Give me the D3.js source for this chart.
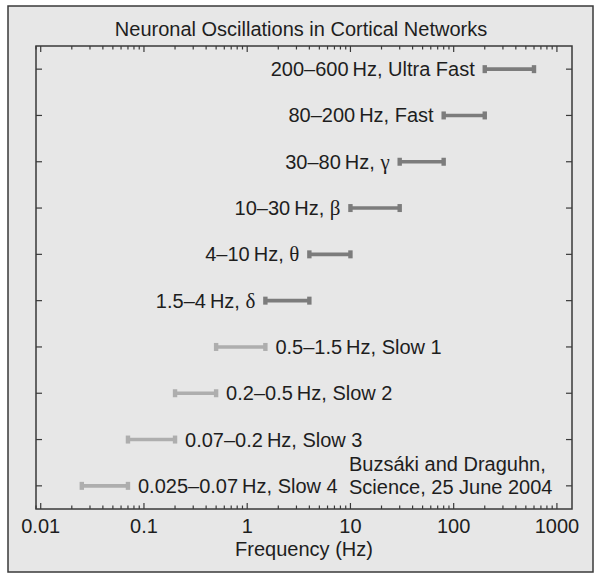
<!DOCTYPE html>
<html>
<head>
<meta charset="utf-8">
<script src="https://cdn.jsdelivr.net/npm/d3@7"></script>
<style>
  body { margin: 0; background: #fff; }
  text { font-family: "Liberation Sans", Arial, sans-serif; fill: #1e1e1e; }
  .greek { font-family: "Liberation Serif", "DejaVu Serif", serif; }
</style>
</head>
<body>
<svg id="chart" width="600" height="576"></svg>
<script>
// band limits (Hz), top row first
var lowHz   = [200, 80, 30, 10, 4, 1.5, 0.5, 0.2, 0.07, 0.025];
var highHz  = [600, 200, 80, 30, 10, 4, 1.5, 0.5, 0.2, 0.07];
var ranges  = ["200–600", "80–200", "30–80", "10–30", "4–10", "1.5–4",
               "0.5–1.5", "0.2–0.5", "0.07–0.2", "0.025–0.07"];
var names   = ["Ultra Fast", "Fast", "γ", "β", "θ", "δ",
               "Slow 1", "Slow 2", "Slow 3", "Slow 4"];
var isSlow  = [false, false, false, false, false, false, true, true, true, true];
var tickVals = [0.01, 0.1, 1, 10, 100, 1000];
var tickText = ["0.01", "0.1", "1", "10", "100", "1000"];

var svg = d3.select("#chart");

var pLeft = 36, pRight = 572, pTop = 46, pBottom = 509;

// panel
svg.append("rect")
   .attr("x", 8).attr("y", 6)
   .attr("width", 585).attr("height", 566)
   .attr("fill", "#e7e7e7")
   .attr("stroke", "#3a3a3a")
   .attr("stroke-width", 1.5);

var x = d3.scaleLog().domain([0.009, 1400]).range([pLeft, pRight]);
var y = d3.scalePoint().domain(d3.range(lowHz.length)).range([pTop, pBottom]).padding(0.5);

// minor + major ticks on top & bottom
var minor = [];
for (var e = -3; e <= 3; e++) {
    for (var m = 1; m <= 9; m++) {
        var v = m * Math.pow(10, e);
        if (v >= 0.009 && v <= 1400) minor.push({v: v, major: m === 1});
    }
}

var axisG = svg.append("g").attr("stroke", "#3a3a3a").attr("stroke-width", 1.2);

axisG.selectAll("line.tb")
     .data(minor)
     .enter()
     .append("line")
     .attr("class", "tb")
     .attr("x1", d => x(d.v)).attr("x2", d => x(d.v))
     .attr("y1", pBottom).attr("y2", d => pBottom - (d.major ? 6 : 3.5));

axisG.selectAll("line.tt")
     .data(minor)
     .enter()
     .append("line")
     .attr("class", "tt")
     .attr("x1", d => x(d.v)).attr("x2", d => x(d.v))
     .attr("y1", pTop).attr("y2", d => pTop + (d.major ? 6 : 3.5));

axisG.selectAll("line.yl")
     .data(lowHz)
     .enter()
     .append("line")
     .attr("class", "yl")
     .attr("x1", pLeft).attr("x2", pLeft + 6)
     .attr("y1", (d, i) => y(i)).attr("y2", (d, i) => y(i));

axisG.selectAll("line.yr")
     .data(lowHz)
     .enter()
     .append("line")
     .attr("class", "yr")
     .attr("x1", pRight - 6).attr("x2", pRight)
     .attr("y1", (d, i) => y(i)).attr("y2", (d, i) => y(i));

svg.append("rect")
   .attr("x", pLeft).attr("y", pTop)
   .attr("width", pRight - pLeft).attr("height", pBottom - pTop)
   .attr("fill", "none")
   .attr("stroke", "#3a3a3a")
   .attr("stroke-width", 1.5);

// tick labels
svg.selectAll("text.xl")
   .data(tickVals)
   .enter()
   .append("text")
   .attr("class", "xl")
   .attr("x", d => x(d))
   .attr("y", 533)
   .attr("text-anchor", "middle")
   .style("font-size", "20px")
   .text((d, i) => tickText[i]);

svg.append("text")
   .attr("x", 304).attr("y", 556)
   .attr("text-anchor", "middle")
   .style("font-size", "20px")
   .text("Frequency (Hz)");

svg.append("text")
   .attr("x", 301).attr("y", 36)
   .attr("text-anchor", "middle")
   .style("font-size", "20px")
   .text("Neuronal Oscillations in Cortical Networks");

// bars
var bars = svg.selectAll("g.band")
              .data(lowHz)
              .enter()
              .append("g")
              .attr("class", "band");

bars.each(function(d, i) {
    var g = d3.select(this);
    var col = isSlow[i] ? "#aeaeae" : "#7c7c7c";
    var x0 = x(lowHz[i]), x1 = x(highHz[i]), yy = y(i);
    g.append("line")
     .attr("x1", x0).attr("x2", x1)
     .attr("y1", yy).attr("y2", yy)
     .attr("stroke", col).attr("stroke-width", 3.6);
    [x0, x1].forEach(function(cx) {
        g.append("rect")
         .attr("x", cx - 2.2).attr("y", yy - 4)
         .attr("width", 4.4).attr("height", 8)
         .attr("fill", col);
    });

    var t = g.append("text")
             .attr("y", yy + 7)
             .style("font-size", "20px");
    if (isSlow[i]) {
        t.attr("x", x1 + 10).attr("text-anchor", "start");
    } else {
        t.attr("x", x0 - 10).attr("text-anchor", "end");
    }
    t.append("tspan").text(ranges[i] + "\u2009Hz, ");
    t.append("tspan")
     .attr("class", names[i].length === 1 ? "greek" : null)
     .style("font-size", names[i].length === 1 ? "21px" : null)
     .text(names[i]);
});

// citation
var cite = svg.append("text")
              .style("font-size", "20px");
cite.append("tspan").attr("x", 349).attr("y", 471).text("Buzsáki and Draguhn,");
cite.append("tspan").attr("x", 349).attr("y", 494).text("Science, 25 June 2004");
</script>
</body>
</html>
